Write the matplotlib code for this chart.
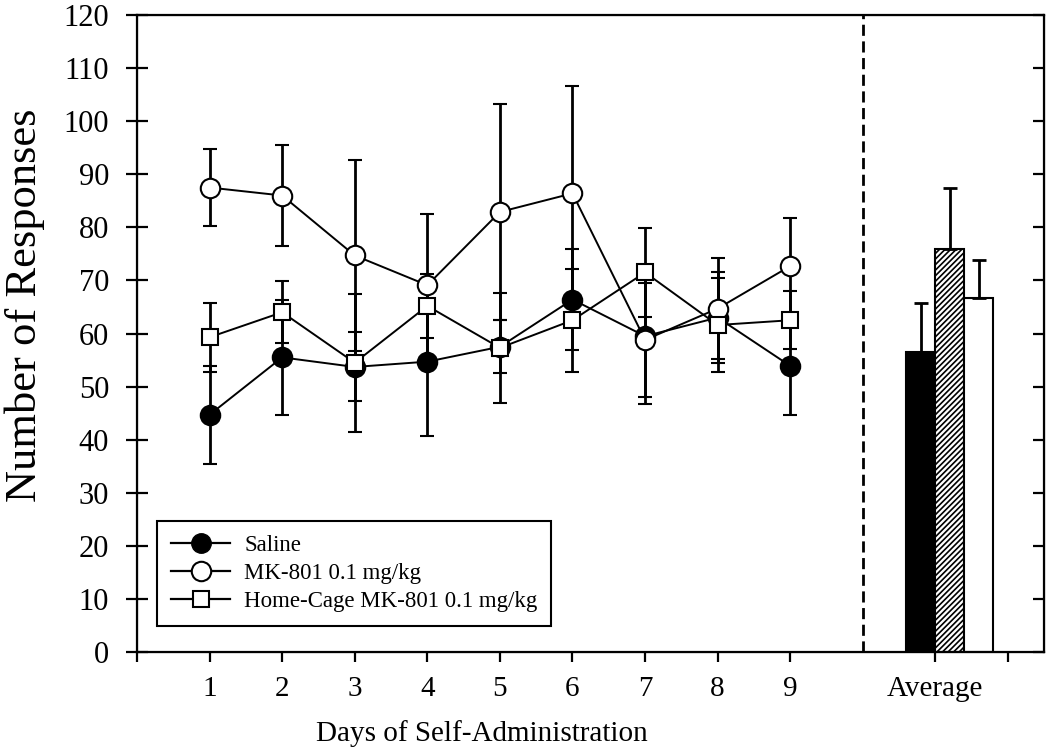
import numpy as np
import matplotlib.pyplot as plt
from matplotlib.lines import Line2D

plt.rcParams['font.family'] = ['Liberation Serif', 'DejaVu Serif']
plt.rcParams['hatch.linewidth'] = 1.2

# Daily means and SEM
days = np.arange(1, 10)
saline = [44.7, 55.5, 53.7, 54.7, 57.5, 66.4, 59.5, 63.0, 53.9]
saline_err = [9.2, 10.9, 6.5, 14.0, 5.0, 9.5, 12.8, 8.5, 9.3]
mk801 = [87.5, 86.0, 74.7, 69.1, 82.9, 86.4, 58.8, 64.7, 72.7]
mk801_err = [7.3, 9.5, 18.0, 13.4, 20.3, 20.2, 10.8, 9.5, 9.0]
homecage = [59.3, 64.0, 54.5, 65.2, 57.3, 62.5, 71.5, 61.6, 62.5]
homecage_err = [6.5, 5.8, 13.0, 6.0, 10.3, 9.7, 8.3, 8.8, 5.5]

# Averages over all days
avg_pos = [10.8, 11.2, 11.6]
avg_means = [56.6, 75.9, 66.6]
avg_err = [9.2, 11.6, 7.2]

labels = ["Saline", "MK-801 0.1 mg/kg", "Home-Cage MK-801 0.1 mg/kg"]

fig = plt.figure(figsize=(10.5, 7.52), dpi=100)
ax = fig.add_axes([0.1305, 0.133, 0.864, 0.847])

eb = dict(ecolor='black', elinewidth=2, capsize=5, capthick=2, color='black', lw=1.4, mec='black', mew=1.5)
ax.errorbar(days, saline, yerr=saline_err, marker='o', ms=14, mfc='black', **eb)
ax.errorbar(days, mk801, yerr=mk801_err, marker='o', ms=14, mfc='white', **eb)
ax.errorbar(days, homecage, yerr=homecage_err, marker='s', ms=12, mfc='white', **eb)

# average bars
ax.bar(avg_pos[0], avg_means[0], width=0.4, color='black', edgecolor='black', lw=1.5)
ax.bar(avg_pos[1], avg_means[1], width=0.4, color='white', edgecolor='black', lw=1.5, hatch='//////')
ax.bar(avg_pos[2], avg_means[2], width=0.4, color='white', edgecolor='black', lw=1.5)
ax.errorbar(avg_pos, avg_means, yerr=[np.zeros(3), avg_err], fmt='none',
            ecolor='black', elinewidth=2, capsize=5, capthick=2)

ax.axvline(10, color='black', lw=2, ls=(0, (4, 2)))

ax.set_xlim(0, 12.5)
ax.set_ylim(0, 120)
ax.set_xticks([0, 1, 2, 3, 4, 5, 6, 7, 8, 9, 11, 12])
ax.set_xticklabels(['', '1', '2', '3', '4', '5', '6', '7', '8', '9', 'Average', ''])
ax.set_yticks(np.arange(0, 121, 10))

for s in ax.spines.values():
    s.set_linewidth(1.6)

ax.tick_params(axis='x', direction='out', length=7, width=1.6, labelsize=21, pad=10)
ax.tick_params(axis='y', direction='inout', length=16, width=1.6, labelsize=22, pad=12)

ax2 = ax.twinx()
ax2.set_ylim(0, 120)
ax2.set_yticks(np.arange(0, 121, 10))
ax2.tick_params(axis='y', direction='in', length=8, width=1.6, labelright=False)

handles = [
    Line2D([], [], color='black', lw=1.6, marker='o', ms=14, mfc='black', mec='black'),
    Line2D([], [], color='black', lw=1.6, marker='o', ms=14, mfc='white', mec='black', mew=1.5),
    Line2D([], [], color='black', lw=1.6, marker='s', ms=12, mfc='white', mec='black', mew=1.5),
]
leg = ax.legend(handles, labels, loc='lower left', bbox_to_anchor=(0.022, 0.041), borderaxespad=0,
                fancybox=False, edgecolor='black', fontsize=16.5, handlelength=2.6,
                labelspacing=0.3, borderpad=0.6, handletextpad=0.6, framealpha=1)
leg.get_frame().set_linewidth(1.5)

fig.text(0.004, 0.594, "Number of Responses", rotation=90, fontsize=32, ha='left', va='center')
fig.text(0.459, 0.014, "Days of Self-Administration", fontsize=21, ha='center', va='baseline')

fig.savefig('out.png', dpi=100)
